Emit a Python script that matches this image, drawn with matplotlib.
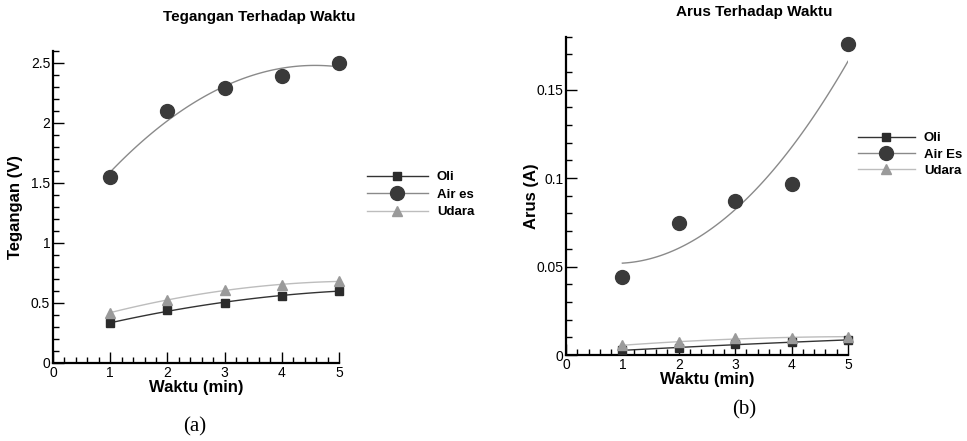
import matplotlib
matplotlib.use('Agg')
import matplotlib.pyplot as plt
from matplotlib.lines import Line2D
from matplotlib.ticker import MultipleLocator, FormatStrFormatter
import numpy as np

waktu = [1, 2, 3, 4, 5]

# (a) Tegangan (V)
teg_oli = [0.33, 0.44, 0.50, 0.56, 0.60]
teg_air_es = [1.55, 2.10, 2.29, 2.39, 2.50]
teg_udara = [0.42, 0.52, 0.61, 0.65, 0.68]

# (b) Arus (A)
arus_oli = [0.0028, 0.0038, 0.0062, 0.0072, 0.0085]
arus_air_es = [0.0439, 0.0749, 0.0869, 0.0967, 0.1756]
arus_udara = [0.0056, 0.0072, 0.0094, 0.0098, 0.0104]

STYLES = {
    'oli': dict(marker='s', ms=6, mfc='#2b2b2b', mec='#2b2b2b', line='#333333'),
    'air': dict(marker='o', ms=10, mfc='#3a3a3a', mec='#3a3a3a', line='#8a8a8a'),
    'udara': dict(marker='^', ms=6.5, mfc='#9a9a9a', mec='#9a9a9a', line='#bdbdbd'),
}

plt.rcParams['font.family'] = ['Liberation Sans', 'DejaVu Sans']

fig = plt.figure(figsize=(9.67, 4.41), dpi=100)


def draw_panel(ax, series, names, ylim, ymajor, yminor, ylabel, hlen, spacing):
    xx = np.linspace(1, 5, 100)
    for key, y in series:
        st = STYLES[key]
        coef = np.polyfit(waktu, y, 2)
        ax.plot(xx, np.polyval(coef, xx), color=st['line'], lw=1.0, zorder=2)
        ax.plot(waktu, y, linestyle='none', marker=st['marker'], ms=st['ms'],
                mfc=st['mfc'], mec=st['mec'], zorder=3, clip_on=False)
    ax.set_xlim(0, 5)
    ax.set_ylim(*ylim)
    ax.spines['top'].set_visible(False)
    ax.spines['right'].set_visible(False)
    ax.spines['left'].set_linewidth(1.6)
    ax.spines['bottom'].set_linewidth(1.6)
    ax.xaxis.set_major_locator(MultipleLocator(1))
    ax.xaxis.set_minor_locator(MultipleLocator(0.2))
    ax.yaxis.set_major_locator(MultipleLocator(ymajor))
    ax.yaxis.set_minor_locator(MultipleLocator(yminor))
    ax.yaxis.set_major_formatter(FormatStrFormatter('%g'))
    ax.tick_params(which='both', direction='in', labelsize=10, width=1)
    ax.tick_params(which='major', length=8, pad=2)
    ax.tick_params(which='minor', length=4)
    ax.set_xlabel('Waktu (min)', fontsize=12, fontweight='bold', labelpad=0)
    ax.set_ylabel(ylabel, fontsize=12, fontweight='bold')
    handles = [
        Line2D([], [], color=STYLES[k]['line'], marker=STYLES[k]['marker'],
               ms=STYLES[k]['ms'], mfc=STYLES[k]['mfc'], mec=STYLES[k]['mec'],
               lw=1.0)
        for k, _ in series
    ]
    ax.legend(handles, names, loc='upper left', frameon=False,
              prop=dict(weight='bold', size=9.5),
              handlelength=hlen, handletextpad=0.7, labelspacing=spacing,
              borderaxespad=0, borderpad=0)
    return ax.get_legend()


# panel (a)
ax1 = fig.add_axes([0.0548, 0.177, 0.2958, 0.708])
leg1 = draw_panel(ax1, [('oli', teg_oli), ('air', teg_air_es), ('udara', teg_udara)],
                  ['Oli', 'Air es', 'Udara'], (0, 2.6), 0.5, 0.1, 'Tegangan (V)',
                  4.6, 0.4)
leg1.set_bbox_to_anchor((1.098, 0.615))
ax1.yaxis.set_label_coords(-0.105, 0.5)
fig.text(0.268, 0.962, 'Tegangan Terhadap Waktu', fontsize=11, fontweight='bold',
         ha='center', va='center')

# panel (b)
ax2 = fig.add_axes([0.5853, 0.195, 0.2916, 0.722])
leg2 = draw_panel(ax2, [('oli', arus_oli), ('air', arus_air_es), ('udara', arus_udara)],
                  ['Oli', 'Air Es', 'Udara'], (0, 0.18), 0.05, 0.01, 'Arus (A)',
                  4.3, 0.3)
leg2.set_bbox_to_anchor((1.035, 0.70))
ax2.yaxis.set_label_coords(-0.095, 0.5)
fig.text(0.78, 0.972, 'Arus Terhadap Waktu', fontsize=11, fontweight='bold',
         ha='center', va='center')

fig.text(0.2017, 0.032, '(a)', family='Liberation Serif', fontsize=15, ha='center', va='center')
fig.text(0.7694, 0.07, '(b)', family='Liberation Serif', fontsize=15, ha='center', va='center')

plt.savefig('out.png', dpi=100)
plt.close()
